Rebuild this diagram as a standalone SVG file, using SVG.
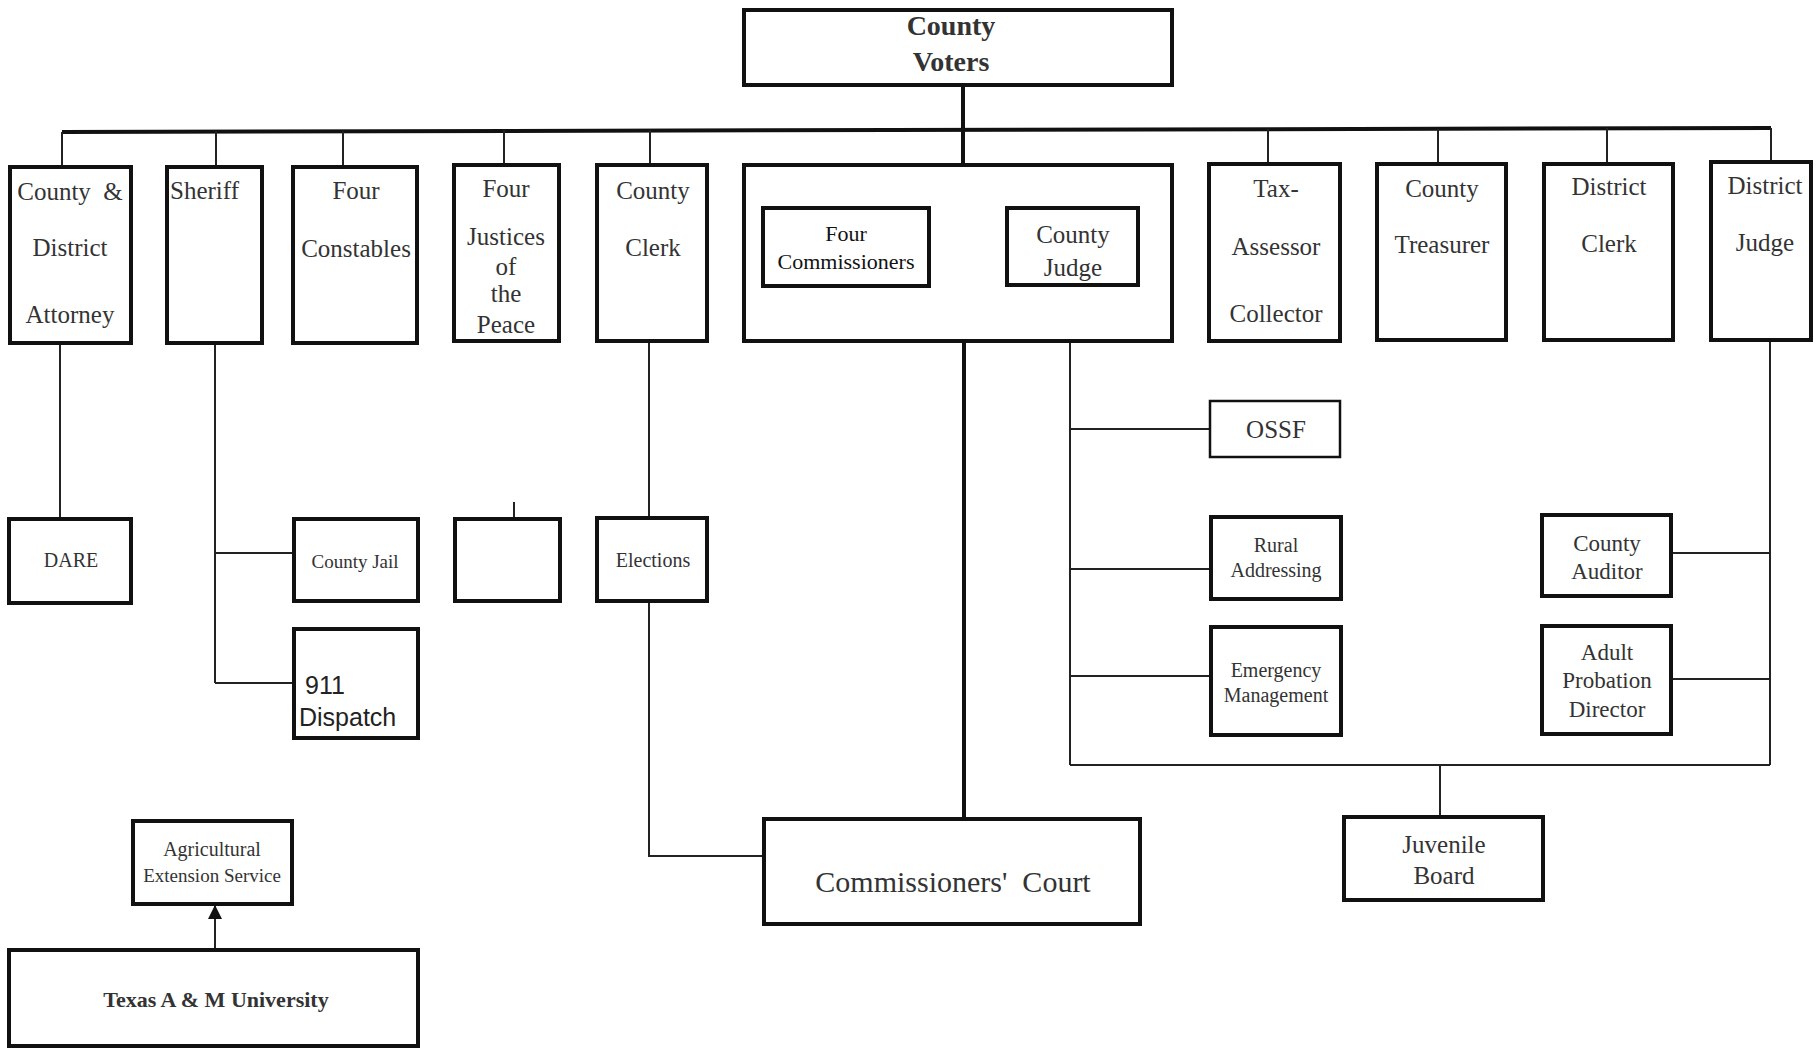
<svg xmlns="http://www.w3.org/2000/svg" width="1817" height="1051" viewBox="0 0 1817 1051">
<style>
  .box { fill: #fff; stroke: #111; stroke-width: 4; }
  .thinbox { fill: #fff; stroke: #111; stroke-width: 2.5; }
  .t { font-family: "Liberation Serif", "Times New Roman", serif; fill: #333; text-anchor: middle; }
  .s { font-family: "Liberation Sans", Arial, sans-serif; fill: #222; }
  .c { stroke: #222; stroke-width: 2; fill: none; }
  .ck { stroke: #111; stroke-width: 4; fill: none; }
</style>
<defs>
  <marker id="arr" viewBox="0 0 14 14" refX="13" refY="7" markerWidth="14" markerHeight="14" markerUnits="userSpaceOnUse" orient="auto">
    <path d="M0,0 L14,7 L0,14 Z" fill="#111"/>
  </marker>
</defs>
<rect width="1817" height="1051" fill="#fff"/>

<g id="connectors">
  <path class="ck" d="M62 132 L1771 128"/>
  <path class="ck" d="M963 87 V165"/>
  <path class="ck" d="M964 343 V819"/>
  <path class="c" d="M62 132 V167 M216 131 V167 M343 131 V167 M504 130 V165 M650 130 V165 M1268 129 V164 M1438 129 V164 M1607 128 V164 M1771 128 V162"/>
  <path class="c" d="M60 345 V519"/>
  <path class="c" d="M215 345 V683 M215 553 H294 M215 683 H294"/>
  <path class="c" d="M514 502 V519"/>
  <path class="c" d="M649 343 V518 M649 603 V856 H764"/>
  <path class="c" d="M1070 287 V765 M1070 429 H1210 M1070 569 H1211 M1070 676 H1211"/>
  <path class="c" d="M1770 342 V765 M1673 553 H1770 M1673 679 H1770"/>
  <path class="c" d="M1070 765 H1770 M1440 765 V817"/>
  <path class="c" d="M215 950 V906" marker-end="url(#arr)"/>
</g>

<g id="county-voters">
  <rect class="box" x="744" y="10" width="428" height="75"/>
  <text class="t" x="951" y="35" font-size="28" font-weight="bold">County</text>
  <text class="t" x="951" y="71" font-size="28" font-weight="bold">Voters</text>
</g>

<g id="county-district-attorney">
  <rect class="box" x="10" y="167" width="121" height="176"/>
  <text class="t" x="70" y="200" font-size="25" xml:space="preserve">County  &amp;</text>
  <text class="t" x="70" y="256" font-size="25">District</text>
  <text class="t" x="70" y="323" font-size="25">Attorney</text>
</g>

<g id="sheriff">
  <rect class="box" x="167" y="167" width="95" height="176"/>
  <text class="t" x="170" y="199" font-size="25" style="text-anchor:start">Sheriff</text>
</g>

<g id="four-constables">
  <rect class="box" x="293" y="167" width="124" height="176"/>
  <text class="t" x="356" y="199" font-size="25">Four</text>
  <text class="t" x="356" y="257" font-size="25">Constables</text>
</g>

<g id="justices-of-the-peace">
  <rect class="box" x="454" y="165" width="105" height="176"/>
  <text class="t" x="506" y="197" font-size="25">Four</text>
  <text class="t" x="506" y="245" font-size="25">Justices</text>
  <text class="t" x="506" y="275" font-size="25">of</text>
  <text class="t" x="506" y="302" font-size="25">the</text>
  <text class="t" x="506" y="333" font-size="25">Peace</text>
</g>

<g id="county-clerk">
  <rect class="box" x="597" y="165" width="110" height="176"/>
  <text class="t" x="653" y="199" font-size="25">County</text>
  <text class="t" x="653" y="256" font-size="25">Clerk</text>
</g>

<g id="commissioners-group">
  <rect class="box" x="744" y="165" width="428" height="176"/>
</g>

<g id="four-commissioners">
  <rect class="box" x="763" y="208" width="166" height="78"/>
  <text class="t" x="846" y="241" font-size="22" style="fill:#111">Four</text>
  <text class="t" x="846" y="269" font-size="22" style="fill:#111">Commissioners</text>
</g>

<g id="county-judge">
  <rect class="box" x="1007" y="208" width="131" height="77"/>
  <text class="t" x="1073" y="243" font-size="25">County</text>
  <text class="t" x="1073" y="276" font-size="25">Judge</text>
</g>

<g id="tax-assessor-collector">
  <rect class="box" x="1209" y="164" width="131" height="177"/>
  <text class="t" x="1276" y="197" font-size="25">Tax-</text>
  <text class="t" x="1276" y="255" font-size="25">Assessor</text>
  <text class="t" x="1276" y="322" font-size="25">Collector</text>
</g>

<g id="county-treasurer">
  <rect class="box" x="1377" y="164" width="129" height="176"/>
  <text class="t" x="1442" y="197" font-size="25">County</text>
  <text class="t" x="1442" y="253" font-size="25">Treasurer</text>
</g>

<g id="district-clerk">
  <rect class="box" x="1544" y="164" width="129" height="176"/>
  <text class="t" x="1609" y="195" font-size="25">District</text>
  <text class="t" x="1609" y="252" font-size="25">Clerk</text>
</g>

<g id="district-judge">
  <rect class="box" x="1711" y="162" width="100" height="178"/>
  <text class="t" x="1765" y="194" font-size="25">District</text>
  <text class="t" x="1765" y="251" font-size="25">Judge</text>
</g>

<g id="dare">
  <rect class="box" x="9" y="519" width="122" height="84"/>
  <text class="t" x="71" y="567" font-size="20">DARE</text>
</g>

<g id="county-jail">
  <rect class="box" x="294" y="519" width="124" height="82"/>
  <text class="t" x="355" y="568" font-size="19">County Jail</text>
</g>

<g id="dispatch-911">
  <rect class="box" x="294" y="629" width="124" height="109"/>
  <text class="s" x="305" y="694" font-size="25">911</text>
  <text class="s" x="299" y="726" font-size="25">Dispatch</text>
</g>

<g id="jp-sub">
  <rect class="box" x="455" y="519" width="105" height="82"/>
</g>

<g id="elections">
  <rect class="box" x="597" y="518" width="110" height="83"/>
  <text class="t" x="653" y="567" font-size="20">Elections</text>
</g>

<g id="ossf">
  <rect class="thinbox" x="1210" y="401" width="130" height="56"/>
  <text class="t" x="1276" y="438" font-size="25">OSSF</text>
</g>

<g id="rural-addressing">
  <rect class="box" x="1211" y="517" width="130" height="82"/>
  <text class="t" x="1276" y="552" font-size="20">Rural</text>
  <text class="t" x="1276" y="577" font-size="20">Addressing</text>
</g>

<g id="emergency-management">
  <rect class="box" x="1211" y="627" width="130" height="108"/>
  <text class="t" x="1276" y="677" font-size="20">Emergency</text>
  <text class="t" x="1276" y="702" font-size="20">Management</text>
</g>

<g id="county-auditor">
  <rect class="box" x="1542" y="515" width="129" height="81"/>
  <text class="t" x="1607" y="551" font-size="23">County</text>
  <text class="t" x="1607" y="579" font-size="23">Auditor</text>
</g>

<g id="adult-probation-director">
  <rect class="box" x="1542" y="626" width="129" height="108"/>
  <text class="t" x="1607" y="660" font-size="23">Adult</text>
  <text class="t" x="1607" y="688" font-size="23">Probation</text>
  <text class="t" x="1607" y="717" font-size="23">Director</text>
</g>

<g id="agricultural-extension">
  <rect class="box" x="133" y="821" width="159" height="83"/>
  <text class="t" x="212" y="856" font-size="20">Agricultural</text>
  <text class="t" x="212" y="882" font-size="19">Extension Service</text>
</g>

<g id="texas-am">
  <rect class="box" x="9" y="950" width="409" height="96"/>
  <text class="t" x="216" y="1007" font-size="22" font-weight="bold">Texas A &amp; M University</text>
</g>

<g id="commissioners-court">
  <rect class="box" x="764" y="819" width="376" height="105"/>
  <text class="t" x="953" y="892" font-size="30" xml:space="preserve">Commissioners'  Court</text>
</g>

<g id="juvenile-board">
  <rect class="box" x="1344" y="817" width="199" height="83"/>
  <text class="t" x="1444" y="853" font-size="25">Juvenile</text>
  <text class="t" x="1444" y="884" font-size="25">Board</text>
</g>
</svg>
